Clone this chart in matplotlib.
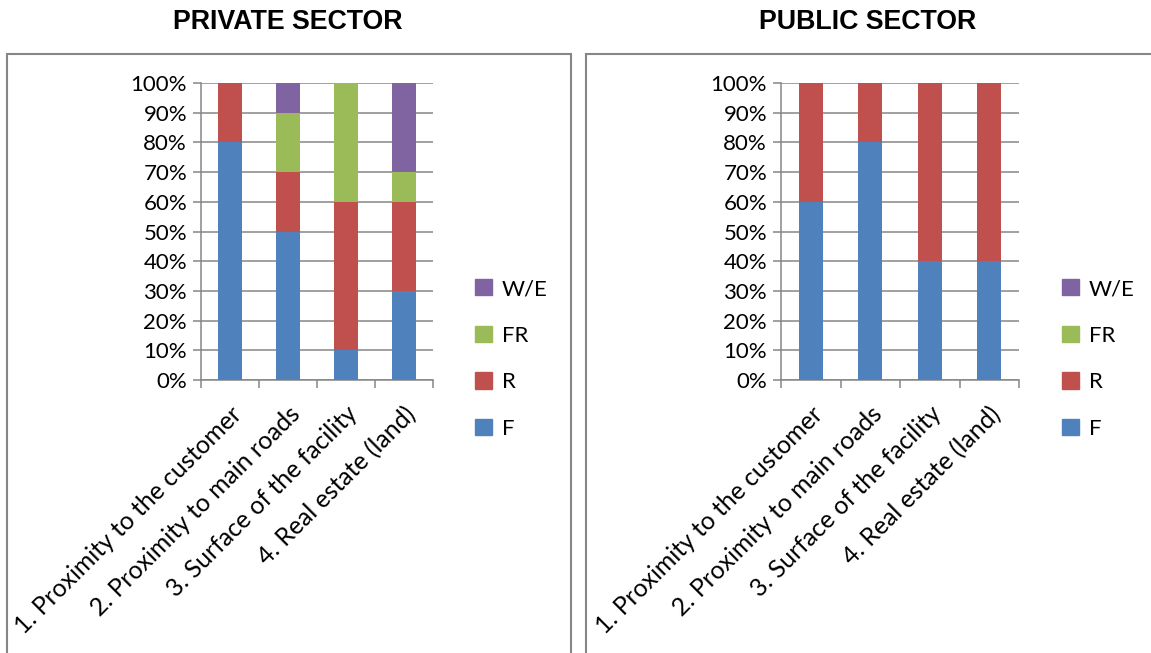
import numpy as np
import matplotlib.pyplot as plt
from matplotlib.patches import Patch, Rectangle

# ── Data ─────────────────────────────────────────────────────────
categories = ["1. Proximity to the customer", "2. Proximity to main roads",
              "3. Surface of the facility", "4. Real estate (land)"]
series = ["F", "R", "FR", "W/E"]
colors = {"F": "#4F81BD", "R": "#C0504D", "FR": "#9BBB59", "W/E": "#8064A2"}

private_F  = [80, 50, 10, 30]
private_R  = [20, 20, 50, 30]
private_FR = [0, 20, 40, 10]
private_WE = [0, 10, 0, 30]

public_F  = [60, 80, 40, 40]
public_R  = [40, 20, 60, 60]
public_FR = [0, 0, 0, 0]
public_WE = [0, 0, 0, 0]

W, H = 1151, 653
GRID = "#868686"
plt.rcParams['font.family'] = ['Lato', 'DejaVu Sans']

fig = plt.figure(figsize=(W / 100, H / 100), dpi=100)

def px_box(x0, x1, y_top, y_bot):
    return [x0 / W, 1 - y_bot / H, (x1 - x0) / W, (y_bot - y_top) / H]

def draw_panel(ax, vals, title_x, title, leg_x):
    x = np.arange(len(categories))
    bottom = np.zeros(len(categories))
    for name, v in zip(series, vals):
        v = np.array(v, dtype=float)
        ax.bar(x, v, 0.4, bottom=bottom, color=colors[name], zorder=3)
        bottom += v
    ax.set_xlim(-0.5, len(categories) - 0.5)
    ax.set_ylim(0, 100)
    ax.set_yticks(np.arange(0, 101, 10))
    ax.set_yticklabels([f"{t}%" for t in range(0, 101, 10)], fontsize=16)
    ax.yaxis.grid(True, color=GRID, lw=1.1, zorder=0)
    ax.set_xticks(np.arange(-0.5, len(categories), 1.0))
    ax.set_xticklabels([])
    ax.set_xticks(x, minor=True)
    ax.set_xticklabels(categories, minor=True, rotation=45, ha='right',
                       va='top', rotation_mode='anchor', fontsize=17.8)
    ax.tick_params(axis='x', which='minor', length=0, pad=16)
    ax.tick_params(axis='x', which='major', length=6, color=GRID, width=1.1)
    ax.tick_params(axis='y', length=6, color=GRID, width=1.1, pad=4)
    for s in ["top", "right"]:
        ax.spines[s].set_visible(False)
    for s in ["left", "bottom"]:
        ax.spines[s].set_color(GRID)
        ax.spines[s].set_linewidth(1.1)
    fig.text(title_x / W, 1 - 22 / H, title, ha='center', va='center',
             fontsize=19.3, fontweight='bold', family='Liberation Sans')
    handles = [Patch(color=colors[n], label=n) for n in series[::-1]]
    fig.legend(handles=handles, loc='center left',
               bbox_to_anchor=((leg_x - 20) / W, 1 - 359 / H),
               frameon=False, fontsize=16, handlelength=0.75,
               handleheight=0.75, handletextpad=0.45, labelspacing=1.2)

ax1 = fig.add_axes(px_box(201, 433, 83, 380))
draw_panel(ax1, [private_F, private_R, private_FR, private_WE], 288,
           "PRIVATE SECTOR", 475)
ax2 = fig.add_axes(px_box(781, 1019, 83, 380))
draw_panel(ax2, [public_F, public_R, public_FR, public_WE], 868,
           "PUBLIC SECTOR", 1062)

# panel frames
for x0, x1 in [(7, 571), (586, 1160)]:
    fig.add_artist(Rectangle((x0 / W, -0.1), (x1 - x0) / W, 1 - 54 / H + 0.1,
                             transform=fig.transFigure, fill=False,
                             edgecolor=GRID, lw=1.5))

plt.savefig("out.png", dpi=100)
